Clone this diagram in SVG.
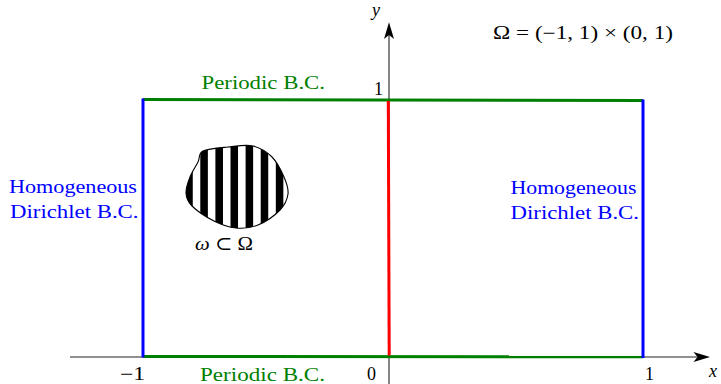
<svg xmlns="http://www.w3.org/2000/svg" width="721" height="384" viewBox="0 0 721 384">
  <style>
    .t { font-family: "Liberation Serif", "DejaVu Serif", serif; font-size: 19px; }
    .m { font-family: "Liberation Serif", "DejaVu Serif", serif; font-size: 18px; fill: #000; }
    .it { font-style: italic; }
    .green { fill: #008000; }
    .blue { fill: #0000ff; }
    .axis { stroke: #222; stroke-width: 1.1; fill: none; }
    .bc { stroke-width: 3; fill: none; stroke-linecap: butt; }
  </style>
  <defs>
    <pattern id="stripes" patternUnits="userSpaceOnUse" x="185.2" y="0" width="15.1" height="10">
      <rect x="0" y="0" width="7.55" height="10" fill="#000"/>
      <rect x="7.55" y="0" width="7.55" height="10" fill="#fff"/>
    </pattern>
  </defs>
  <rect x="0" y="0" width="721" height="384" fill="#fff"/>

  <g id="axes">
    <line class="axis" x1="70" y1="357" x2="697" y2="357"/>
    <polygon points="710,357 693.5,352 697.5,357 693.5,362" fill="#000"/>
    <line class="axis" x1="389" y1="384" x2="389" y2="35"/>
    <polygon points="389,22.3 384,39 389,35 394,39" fill="#000"/>
    <text class="m it" x="372" y="16">y</text>
    <text class="m it" x="709" y="377">x</text>
    <text class="m" x="374" y="95">1</text>
    <text class="m" x="120" y="380" textLength="25" lengthAdjust="spacingAndGlyphs">−1</text>
    <text class="m" x="367" y="380">0</text>
    <text class="m" x="645" y="380">1</text>
  </g>

  <g id="connectors">
    <line class="bc" stroke="#008000" x1="143" y1="99.5" x2="643" y2="100.5"/>
    <line class="bc" stroke="#008000" x1="143" y1="356.5" x2="643" y2="356.8"/>
    <line class="bc" stroke="#0000ff" x1="143" y1="98.5" x2="143" y2="357.5"/>
    <line class="bc" stroke="#0000ff" x1="643" y1="99.5" x2="643" y2="358"/>
    <line class="bc" stroke="#ff0000" x1="388.3" y1="101" x2="389.2" y2="355.5"/>
  </g>

  <g id="top-bc">
    <text class="t green" x="201.5" y="89" textLength="123.5" lengthAdjust="spacingAndGlyphs">Periodic B.C.</text>
  </g>
  <g id="bottom-bc">
    <text class="t green" x="200" y="380.5" textLength="125" lengthAdjust="spacingAndGlyphs">Periodic B.C.</text>
  </g>
  <g id="left-bc">
    <text class="t blue" x="9" y="193" textLength="128" lengthAdjust="spacingAndGlyphs">Homogeneous</text>
    <text class="t blue" x="10" y="218" textLength="128.5" lengthAdjust="spacingAndGlyphs">Dirichlet B.C.</text>
  </g>
  <g id="right-bc">
    <text class="t blue" x="510.5" y="193.5" textLength="126" lengthAdjust="spacingAndGlyphs">Homogeneous</text>
    <text class="t blue" x="510.5" y="218.5" textLength="128.5" lengthAdjust="spacingAndGlyphs">Dirichlet B.C.</text>
  </g>

  <g id="omega-sub">
    <path d="M203,151 C208,148.5 219.7,147.8 228,147 C236.3,146.2 245.7,144.3 253,146 C260.3,147.7 266.8,151.8 272,157 C277.2,162.2 281.3,170.8 284,177 C286.7,183.2 288.7,188.5 288,194 C287.3,199.5 285,204.8 280,210 C275,215.2 265.3,222 258,225 C250.7,228 243.3,228.7 236,228 C228.7,227.3 221.3,224.7 214,221 C206.7,217.3 196.7,210.7 192,206 C187.3,201.3 186.3,197.8 186,193 C185.7,188.2 188,182.2 190,177 C192,171.8 195.8,166.3 198,162 C200.2,157.7 198,153.5 203,151 Z" fill="url(#stripes)" stroke="#000" stroke-width="1.1" stroke-linejoin="round"/>
    <text class="t" x="195" y="250" textLength="58" lengthAdjust="spacingAndGlyphs"><tspan class="it">ω</tspan> ⊂ Ω</text>
  </g>

  <g id="domain-label">
    <text class="m" x="493" y="38.5" textLength="180" lengthAdjust="spacingAndGlyphs">Ω = (−1, 1) × (0, 1)</text>
  </g>
</svg>
